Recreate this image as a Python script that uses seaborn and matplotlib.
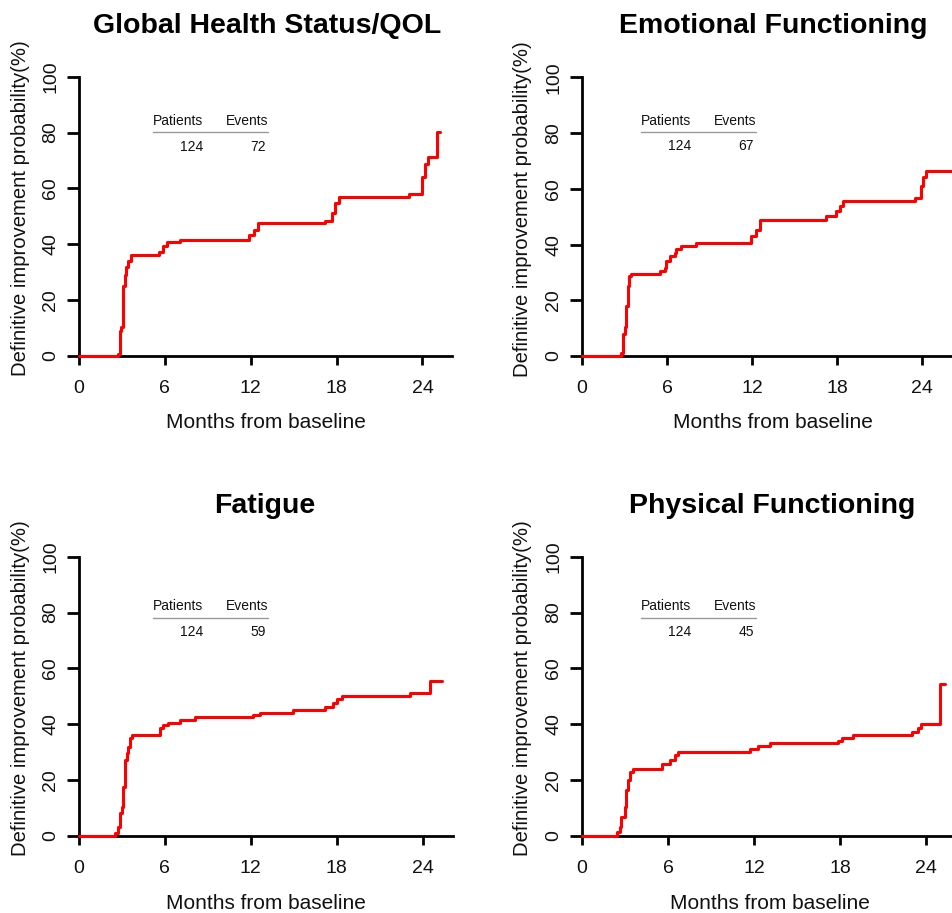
import numpy as np
import pandas as pd
import matplotlib
matplotlib.use("Agg")
import matplotlib.pyplot as plt
import seaborn as sns

# ---------------- data ----------------
titles = ["Global Health Status/QOL", "Emotional Functioning", "Fatigue", "Physical Functioning"]
patients = [124, 124, 124, 124]
events = [72, 67, 59, 45]
x_ticks = [0, 6, 12, 18, 24]
y_ticks = [0, 20, 40, 60, 80, 100]
x_label = "Months from baseline"
y_label = "Definitive improvement probability(%)"

ghs_t = [0, 2.75, 2.85, 2.9, 2.95, 3.05, 3.1, 3.2, 3.3, 3.45, 3.6, 5.61, 5.89, 6.13, 7.06,
         11.9, 12.25, 12.5, 17.2, 17.66, 17.9, 18.15, 23.08, 23.95, 24.18, 24.37, 25.0, 25.2]
ghs_v = [0, 0.8, 3, 9, 10.5, 20, 25, 29, 32, 34, 36.2, 37.4, 39.3, 40.9, 41.5,
         43.3, 45.1, 47.5, 48.3, 51.1, 54.7, 56.8, 57.9, 64.2, 68.7, 71.4, 80.3, 80.3]

emo_t = [0, 2.73, 2.9, 3.0, 3.11, 3.22, 3.34, 3.46, 5.48, 5.84, 5.95, 6.19, 6.54, 6.66, 7.01, 8.07,
         11.95, 12.31, 12.54, 17.25, 17.95, 18.19, 18.42, 23.48, 23.95, 24.07, 24.31, 27.5]
emo_v = [0, 1, 8, 10.5, 17.8, 25, 28.6, 29.5, 30.4, 31.6, 34, 35.8, 37, 38.5, 39.6, 40.6,
         43.2, 45.4, 49, 50.2, 52, 53.8, 55.6, 56.8, 61, 64.3, 66.6, 66.6]

fat_t = [0, 2.52, 2.75, 2.87, 2.98, 3.1, 3.21, 3.35, 3.45, 3.56, 3.7, 5.66, 5.89, 6.24, 7.06, 8.1,
         12.18, 12.65, 14.93, 17.19, 17.77, 18.0, 18.36, 23.08, 24.53, 25.34]
fat_v = [0, 1, 3.3, 8.1, 10.5, 17.7, 27.2, 29.6, 32, 35, 36.2, 38.5, 39.7, 40.6, 41.5, 42.5,
         43.4, 44.2, 45.1, 46.3, 47.5, 48.9, 50.1, 51.1, 55.6, 55.6]

phy_t = [0, 2.44, 2.63, 2.74, 2.97, 3.09, 3.21, 3.37, 3.55, 5.6, 6.11, 6.46, 6.69,
         11.69, 12.27, 13.08, 17.84, 18.15, 18.89, 23.02, 23.42, 23.65, 24.93, 25.28]
phy_v = [0, 1.6, 3.3, 6.9, 10.5, 16.5, 20, 23, 24.1, 25.8, 27.2, 29, 30.2,
         31.1, 32.2, 33.2, 34.1, 35.2, 36.2, 37.4, 38.5, 40.1, 54.4, 54.4]

curves = [(ghs_t, ghs_v), (emo_t, emo_v), (fat_t, fat_v), (phy_t, phy_v)]

# ---------------- layout (pixels) ----------------
W, H = 952, 913
sns.set_theme(style="white")
plt.rcParams["font.family"] = ["Liberation Sans", "DejaVu Sans"]

fig = plt.figure(figsize=(W / 100, H / 100), dpi=100)
fig.patch.set_facecolor("white")

# x0 px (month 0), px per month, y px at 0, y px at 100, x-spine end (months), xlim right
panels = [
    dict(x0=79.0, ppm=14.31, y0=356.0, y100=76.7, xend=26.1, xr=26.6),
    dict(x0=582.0, ppm=14.17, y0=356.0, y100=77.5, xend=30.0, xr=30.0),
    dict(x0=79.0, ppm=14.32, y0=836.0, y100=556.7, xend=26.1, xr=26.6),
    dict(x0=582.0, ppm=14.35, y0=836.0, y100=556.7, xend=30.0, xr=30.0),
]
title_pos = [(267, 33), (773, 33), (265, 513), (772, 513)]
xlab_pos = [(266, 428), (773, 428), (266, 909), (770, 909)]
ylab_x = [21, 523, 21, 523]
table_off = [74, 59, 74, 59]
table_y = [(120.7, 132.3, 146.7), (120.7, 132.0, 146.5), (606, 618.3, 631.7), (606, 618.3, 631.7)]

def fx(px):
    return px / W

def fy(py):
    return 1 - py / H

ylo, yhi = -5, 105
xlo = -1.5
for i, p in enumerate(panels):
    ppu = (p["y0"] - p["y100"]) / 100.0
    left_px = p["x0"] + xlo * p["ppm"]
    right_px = p["x0"] + p["xr"] * p["ppm"]
    top_px = p["y100"] - (yhi - 100) * ppu
    bot_px = p["y0"] - ylo * ppu
    ax = fig.add_axes([fx(left_px), fy(bot_px), (right_px - left_px) / W, (bot_px - top_px) / H])
    ax.set_xlim(xlo, p["xr"])
    ax.set_ylim(ylo, yhi)
    ax.patch.set_alpha(0)
    ax.grid(False)

    t, v = curves[i]
    df = pd.DataFrame({"month": t, "prob": v})
    sns.lineplot(data=df, x="month", y="prob", ax=ax, color="#ff0000", lw=2.2,
                 drawstyle="steps-post", estimator=None, sort=False, zorder=3)

    for s in ["top", "right"]:
        ax.spines[s].set_visible(False)
    for s in ["left", "bottom"]:
        ax.spines[s].set_visible(True)
        ax.spines[s].set_color("black")
        ax.spines[s].set_linewidth(2.0)
        ax.spines[s].set_position(("data", 0))
    ax.spines["left"].set_bounds(0, 100)
    ax.spines["bottom"].set_bounds(0, p["xend"])

    ax.set_xticks(x_ticks)
    ax.set_yticks(y_ticks)
    ax.set_xticklabels([str(x) for x in x_ticks], fontsize=14)
    ax.set_yticklabels([str(y) for y in y_ticks], fontsize=14, rotation=90, va="center")
    ax.tick_params(axis="x", direction="out", length=6.5, width=2.0, color="black",
                   pad=11, labelcolor="#111111", bottom=True)
    ax.tick_params(axis="y", direction="out", length=8.3, width=2.0, color="black",
                   pad=6, labelcolor="#111111", left=True)
    ax.set_xlabel("")
    ax.set_ylabel("")

    # titles & labels
    tx, ty = title_pos[i]
    fig.text(fx(tx), fy(ty), titles[i], ha="center", va="baseline", fontsize=20.5,
             fontweight="bold", color="black")
    lx, ly = xlab_pos[i]
    fig.text(fx(lx), fy(ly), x_label, ha="center", va="baseline", fontsize=15, color="#111111")
    yc = (p["y0"] + p["y100"]) / 2 - 8
    fig.text(fx(ylab_x[i]), fy(yc), y_label, ha="center", va="center", rotation=90,
             fontsize=14.6, color="#111111")

    # patients/events table
    tl = p["x0"] + table_off[i]
    hy, ly2, ny = table_y[i]
    fig.text(fx(tl), fy(hy), "Patients", ha="left", va="center", fontsize=10, color="#111111")
    fig.text(fx(tl + 115), fy(hy), "Events", ha="right", va="center", fontsize=10, color="#111111")
    fig.add_artist(plt.Line2D([fx(tl), fx(tl + 115)], [fy(ly2), fy(ly2)], color="#999999", lw=1.0))
    fig.text(fx(tl + 50), fy(ny), str(patients[i]), ha="right", va="center", fontsize=10, color="#111111")
    fig.text(fx(tl + 113), fy(ny), str(events[i]), ha="right", va="center", fontsize=10, color="#111111")

fig.savefig("out.png", dpi=100, facecolor="white")
